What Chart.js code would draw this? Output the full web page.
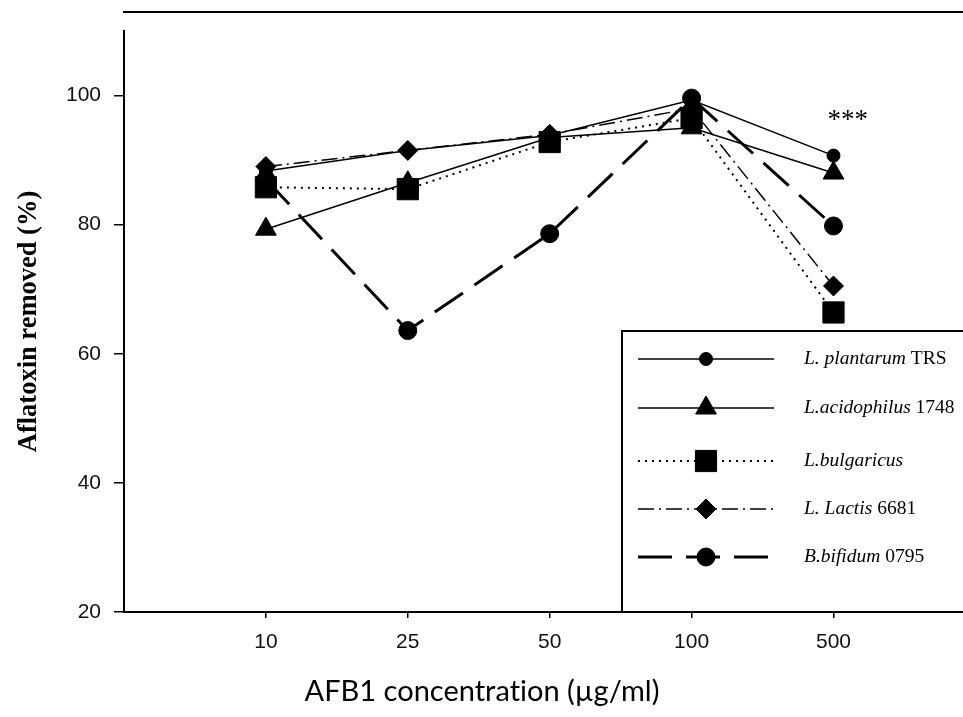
<!DOCTYPE html>
<html>
<head>
<meta charset="utf-8">
<script src="https://cdn.jsdelivr.net/npm/chart.js@4.4.1/dist/chart.umd.min.js"></script>
<style>
  html, body { margin: 0; padding: 0; background: #fff; }
  #wrap { width: 963px; height: 717px; }
</style>
</head>
<body>
<div id="wrap"><canvas id="chart" width="963" height="717"></canvas></div>
<script>
// AFB1 concentrations (µg/ml), plotted at evenly spaced positions 1..5
const concentrations = ['10', '25', '50', '100', '500'];

// Aflatoxin removed (%) for each strain
const plantarumTRS    = [88.3, 91.5, 93.8, 99.3, 90.7];
const acidophilus1748 = [79.3, 86.5, 93.5, 95.0, 88.0];
const bulgaricus      = [85.8, 85.5, 92.8, 96.5, 66.4];
const lactis6681      = [89.0, 91.5, 94.0, 98.0, 70.5];
const bifidum0795     = [87.0, 63.6, 78.6, 99.6, 79.8];

// Legend names: italic species part, upright strain part
const strainNames = [
  ['L. plantarum', 'TRS'],
  ['L.acidophilus', '1748'],
  ['L.bulgaricus', ''],
  ['L. Lactis', '6681'],
  ['B.bifidum', '0795']
];

const yTicks = [20, 40, 60, 80, 100];
const significance = '***';

const toPoints = arr => arr.map((v, i) => ({ x: i + 1, y: v }));

const series = [
  { values: plantarumTRS,    style: 'circle',   radius: 6.5, width: 1.5, dash: [] },
  { values: acidophilus1748, style: 'triangle', radius: 12,  width: 1.5, dash: [] },
  { values: bulgaricus,      style: 'rect',     radius: 15,  width: 2,   dash: [2, 5] },
  { values: lactis6681,      style: 'rectRot',  radius: 10,  width: 1.5, dash: [16, 5, 2, 5] },
  { values: bifidum0795,     style: 'circle',   radius: 9,   width: 3,   dash: [34, 14] }
];

const datasets = series.map((s, i) => ({
  label: strainNames[i].join(' ').trim(),
  data: toPoints(s.values),
  borderColor: '#000',
  backgroundColor: '#000',
  borderWidth: s.width,
  borderDash: s.dash,
  pointStyle: s.style,
  pointRadius: s.radius,
  pointBorderWidth: 1,
  pointBackgroundColor: '#000',
  pointBorderColor: '#000',
  pointHoverRadius: s.radius,
  tension: 0,
  fill: false
}));

// Frame line, legend box, significance marker and x-axis title
const decorations = {
  id: 'decorations',
  afterDatasetsDraw(chart) {
    const { ctx, chartArea, scales } = chart;
    ctx.save();

    // top rule above the plot
    ctx.strokeStyle = '#000';
    ctx.lineWidth = 2;
    ctx.beginPath();
    ctx.moveTo(chartArea.left - 1, chartArea.top - 19);
    ctx.lineTo(chart.width, chartArea.top - 19);
    ctx.stroke();

    // significance stars over the 500 µg/ml group
    ctx.fillStyle = '#000';
    ctx.font = '27px "Liberation Serif", "Times New Roman", serif';
    ctx.textAlign = 'center';
    ctx.textBaseline = 'middle';
    ctx.fillText(significance, scales.x.getPixelForValue(5.1), scales.y.getPixelForValue(96.8) + 5);

    // legend box
    const bx = 622, by = 331, bottom = chartArea.bottom;
    ctx.fillStyle = '#fff';
    ctx.fillRect(bx, by, chart.width - bx + 10, bottom - by);
    ctx.lineWidth = 2;
    ctx.strokeStyle = '#000';
    ctx.strokeRect(bx, by, chart.width - bx + 10, bottom - by);

    const rowY = [359, 408, 461, 509, 557];
    chart.data.datasets.forEach((ds, i) => {
      const y = rowY[i];
      ctx.save();
      ctx.strokeStyle = '#000';
      ctx.lineWidth = ds.borderWidth;
      ctx.setLineDash(ds.borderDash);
      ctx.beginPath();
      ctx.moveTo(638, y);
      ctx.lineTo(774, y);
      ctx.stroke();
      ctx.restore();
      ctx.fillStyle = '#000';
      ctx.strokeStyle = '#000';
      ctx.lineWidth = 1;
      Chart.helpers.drawPoint(ctx, {
        pointStyle: ds.pointStyle,
        radius: ds.pointRadius,
        rotation: 0,
        borderWidth: 1
      }, 706, y);

      const [itPart, upPart] = strainNames[i];
      ctx.textAlign = 'left';
      ctx.textBaseline = 'middle';
      ctx.font = 'italic 19.5px "Liberation Serif", "Times New Roman", serif';
      ctx.fillText(itPart, 804, y);
      if (upPart) {
        const w = ctx.measureText(itPart + ' ').width;
        ctx.font = '19.5px "Liberation Serif", "Times New Roman", serif';
        ctx.fillText(upPart, 804 + w, y);
      }
    });

    // x-axis title (ZWNJ keeps "t" and "i" as separate glyphs)
    ctx.fillStyle = '#000';
    ctx.font = '29px Lato, "Open Sans", sans-serif';
    ctx.textAlign = 'center';
    ctx.textBaseline = 'middle';
    ctx.fillText('AFB1 concentrat\u200Cion (µg/ml)', 482, chartArea.bottom + 80);

    ctx.restore();
  }
};

const tickFont = { family: '"Liberation Sans", Arial, sans-serif', size: 21 };

new Chart(document.getElementById('chart'), {
  type: 'line',
  data: { datasets },
  plugins: [decorations],
  options: {
    responsive: false,
    animation: false,
    events: [],
    layout: { padding: { top: 31, left: 0, right: 0, bottom: 0 } },
    plugins: {
      legend: { display: false },
      tooltip: { enabled: false }
    },
    scales: {
      x: {
        type: 'linear',
        min: 0,
        max: 5.8,
        afterBuildTicks(scale) {
          scale.ticks = concentrations.map((_, i) => ({ value: i + 1 }));
        },
        afterFit(scale) { scale.height = 105; },
        ticks: {
          callback: (v) => concentrations[v - 1],
          font: tickFont,
          color: '#111',
          padding: 12,
          maxRotation: 0
        },
        grid: {
          drawOnChartArea: false,
          drawTicks: true,
          tickLength: 6,
          color: '#000',
          lineWidth: 1.5
        },
        border: { display: true, color: '#000', width: 2 }
      },
      y: {
        min: 20,
        max: 110,
        afterBuildTicks(scale) {
          scale.ticks = yTicks.map(v => ({ value: v }));
        },
        afterFit(scale) { scale.width = 124; },
        ticks: {
          font: tickFont,
          color: '#111',
          padding: 13
        },
        grid: {
          drawOnChartArea: false,
          drawTicks: true,
          tickLength: 10,
          color: '#000',
          lineWidth: 1.5
        },
        border: { display: true, color: '#000', width: 2 },
        title: {
          display: true,
          text: 'Aflatoxin removed (%)',
          font: { family: '"Liberation Serif", "Times New Roman", serif', size: 26.5, weight: 'bold' },
          color: '#000',
          padding: { top: 13, bottom: 0 }
        }
      }
    }
  }
});
</script>
</body>
</html>
